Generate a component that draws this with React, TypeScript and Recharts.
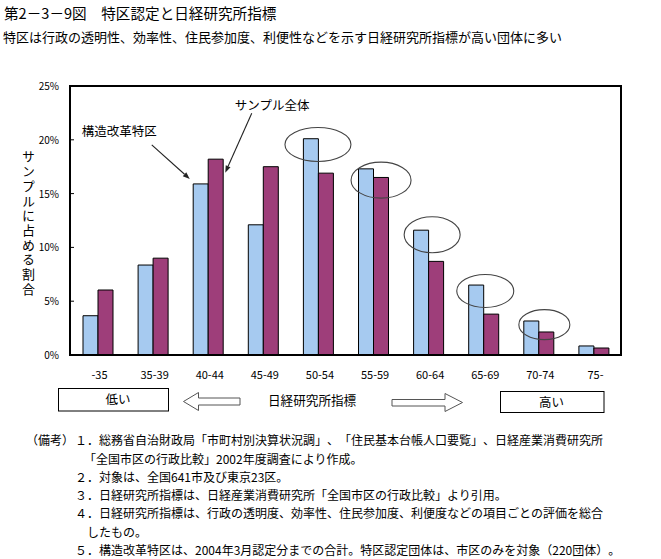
import React from 'react';
import { BarChart, Bar, XAxis, YAxis, ReferenceArea, ReferenceDot } from 'recharts';

// ---- data ----
const categories = ['-35', '35-39', '40-44', '45-49', '50-54', '55-59', '60-64', '65-69', '70-74', '75-'];
const tokkuValues = [3.65, 8.36, 15.9, 12.1, 20.1, 17.3, 11.6, 6.5, 3.16, 0.84];
const sampleValues = [6.04, 9.0, 18.2, 17.5, 16.9, 16.5, 8.7, 3.8, 2.14, 0.65];
const yTicks = [0, 5, 10, 15, 20, 25];

const seriesNames = ['構造改革特区', 'サンプル全体'];
const highlightCats = ['50-54', '55-59', '60-64', '65-69', '70-74'];
const highlightLevels = [19.57, 16.25, 11.18, 5.95, 2.82];

const title = '第2－3－9図　特区認定と日経研究所指標';
const subtitle = '特区は行政の透明性、効率性、住民参加度、利便性などを示す日経研究所指標が高い団体に多い';
const yLabel = 'サンプルに占める割合';
const axisTitle = '日経研究所指標';
const lowLabel = '低い';
const highLabel = '高い';
const notes = [
  '（備考）',
  '１．総務省自治財政局「市町村別決算状況調」、「住民基本台帳人口要覧」、日経産業消費研究所',
  '「全国市区の行政比較」2002年度調査により作成。',
  '２．対象は、全国641市及び東京23区。',
  '３．日経研究所指標は、日経産業消費研究所「全国市区の行政比較」より引用。',
  '４．日経研究所指標は、行政の透明度、効率性、住民参加度、利便度などの項目ごとの評価を総合',
  'したもの。',
  '５．構造改革特区は、2004年3月認定分までの合計。特区認定団体は、市区のみを対象（220団体）。',
];

const data = categories.map((c, i) => ({ cat: c, tokku: tokkuValues[i], sample: sampleValues[i] }));

// ---- styles ----
const FONT = '"Noto Sans CJK JP", "Noto Sans", sans-serif';
const BLUE = '#A6CAF0';
const PURPLE = '#9E3E7A';
const ellipseStyle = [
  { dx: 0, rx: 33, ry: 17 },
  { dx: 8, rx: 30, ry: 18 },
  { dx: 4, rx: 28, ry: 18 },
  { dx: 2, rx: 28.5, ry: 16.5 },
  { dx: 6, rx: 25.5, ry: 15 },
];

const arrowLine = (x1: number, y1: number, x2: number, y2: number) => {
  const ang = Math.atan2(y2 - y1, x2 - x1);
  const L = 7;
  const W = 2.6;
  const bx = x2 - L * Math.cos(ang);
  const by = y2 - L * Math.sin(ang);
  const px = -Math.sin(ang) * W;
  const py = Math.cos(ang) * W;
  return (
    <g>
      <line x1={x1} y1={y1} x2={bx} y2={by} stroke="#222" strokeWidth={1.1} />
      <polygon points={`${x2},${y2} ${bx + px},${by + py} ${bx - px},${by - py}`} fill="#222" />
    </g>
  );
};

const YTick = (props: any) => {
  const { x, y, payload } = props;
  return (
    <g>
      <text x={x} y={y} dy={4} textAnchor="end" fontSize={10} fontFamily={FONT} fill="#000">
        {payload.value}%
      </text>
      <line x1={x + 11} x2={x + 15} y1={y} y2={y} stroke="#000" strokeWidth={1} />
    </g>
  );
};

const XTick = (props: any) => {
  const { x, y, payload } = props;
  return (
    <text x={x + 2} y={y} dy={8} textAnchor="middle" fontSize={11} fontFamily={FONT} fill="#000">
      {payload.value}
    </text>
  );
};

const abs = (left: number, top: number, fontSize: number, extra: any = {}) => ({
  position: 'absolute' as const,
  left,
  top,
  fontSize,
  lineHeight: `${fontSize}px`,
  whiteSpace: 'nowrap' as const,
  fontFamily: FONT,
  color: '#000',
  textSpacingTrim: 'space-all',
  ...extra,
});

export default function App() {
  const noteTops = [434, 453, 471, 489, 507, 526, 544];
  const noteLefts = [26, 75, 84, 75, 75, 75, 87, 75];
  return (
    <div style={{ position: 'absolute', left: 0, top: 0, width: 661, height: 559, background: '#fff', fontFamily: FONT, overflow: 'hidden' }}>
      <div style={abs(4, 5.5, 14.6)}>{title}</div>
      <div style={abs(3, 30, 13)}>{subtitle}</div>

      <div style={{ position: 'absolute', left: 0, top: 0 }}>
        <BarChart
          width={661}
          height={400}
          data={data}
          margin={{ top: 86, right: 40, left: 10, bottom: 15 }}
          barSize={15}
          barGap={0}
        >
          <XAxis
            dataKey="cat"
            height={30}
            tickLine={false}
            tickSize={6}
            tickMargin={10}
            axisLine={{ stroke: '#000', strokeWidth: 2 }}
            tick={<XTick />}
            interval={0}
          />
          <YAxis
            width={60}
            domain={[0, 25]}
            ticks={yTicks}
            tickLine={false}
            tickSize={4}
            tickMargin={7}
            axisLine={{ stroke: '#000', strokeWidth: 2 }}
            tick={<YTick />}
          />
          <Bar dataKey="tokku" name={seriesNames[0]} fill={BLUE} stroke="#000" strokeWidth={1} isAnimationActive={false} />
          <Bar dataKey="sample" name={seriesNames[1]} fill={PURPLE} stroke="#000" strokeWidth={1} isAnimationActive={false} />
          <ReferenceArea y1={0} y2={25} fill="none" stroke="#000" strokeWidth={2} ifOverflow="visible" />
          {highlightCats.map((c, i) => (
            <ReferenceDot
              key={c}
              x={c}
              y={highlightLevels[i]}
              r={1}
              ifOverflow="visible"
              shape={(p: any) => (
                <ellipse
                  cx={p.cx + ellipseStyle[i].dx}
                  cy={p.cy}
                  rx={ellipseStyle[i].rx}
                  ry={ellipseStyle[i].ry}
                  fill="none"
                  stroke="#444"
                  strokeWidth={1.1}
                />
              )}
            />
          ))}
          <ReferenceDot
            x={categories[2]}
            y={tokkuValues[2]}
            r={1}
            ifOverflow="visible"
            shape={(p: any) => (
              <g>
                {arrowLine(p.cx - 56, p.cy - 39, p.cx - 18, p.cy - 5)}
                <text x={p.cx - 51} y={p.cy - 48} textAnchor="end" fontSize={12.5} fontFamily={FONT} fill="#000">
                  {seriesNames[0]}
                </text>
              </g>
            )}
          />
          <ReferenceDot
            x={categories[2]}
            y={sampleValues[2]}
            r={1}
            ifOverflow="visible"
            shape={(p: any) => (
              <g>
                {arrowLine(p.cx + 44, p.cy - 46, p.cx + 17.5, p.cy + 13.5)}
                <text x={p.cx + 27} y={p.cy - 49} textAnchor="start" fontSize={12.5} fontFamily={FONT} fill="#000">
                  {seriesNames[1]}
                </text>
              </g>
            )}
          />
        </BarChart>
      </div>

      <div style={abs(22, 150, 13, { writingMode: 'vertical-rl', letterSpacing: '1.7px' })}>{yLabel}</div>

      <svg width={661} height={559} style={{ position: 'absolute', left: 0, top: 0, pointerEvents: 'none' }}>
        <rect x={58.5} y={388.5} width={110} height={22.5} fill="#fff" stroke="#000" strokeWidth={1} />
        <rect x={500.5} y={391.5} width={103.5} height={21} fill="#fff" stroke="#000" strokeWidth={1} />
        <polygon
          points="183.5,401.5 198.5,392.5 198.5,398 240,398 240,405 198.5,405 198.5,410.5"
          fill="#fff"
          stroke="#555"
          strokeWidth={1}
        />
        <polygon
          points="392,399.5 445,399.5 445,393.5 462.5,402.5 445,411.5 445,406 392,406"
          fill="#fff"
          stroke="#555"
          strokeWidth={1}
        />
      </svg>
      <div style={abs(105.5, 393, 12.5)}>{lowLabel}</div>
      <div style={abs(539, 396, 12.5)}>{highLabel}</div>
      <div style={abs(268, 394, 12.6)}>{axisTitle}</div>

      <div style={abs(noteLefts[0], noteTops[0], 12)}>{notes[0]}</div>
      {notes.slice(1).map((n, i) => (
        <div key={i} style={abs(noteLefts[i + 1], noteTops[i], 12)}>
          {n}
        </div>
      ))}
    </div>
  );
}
